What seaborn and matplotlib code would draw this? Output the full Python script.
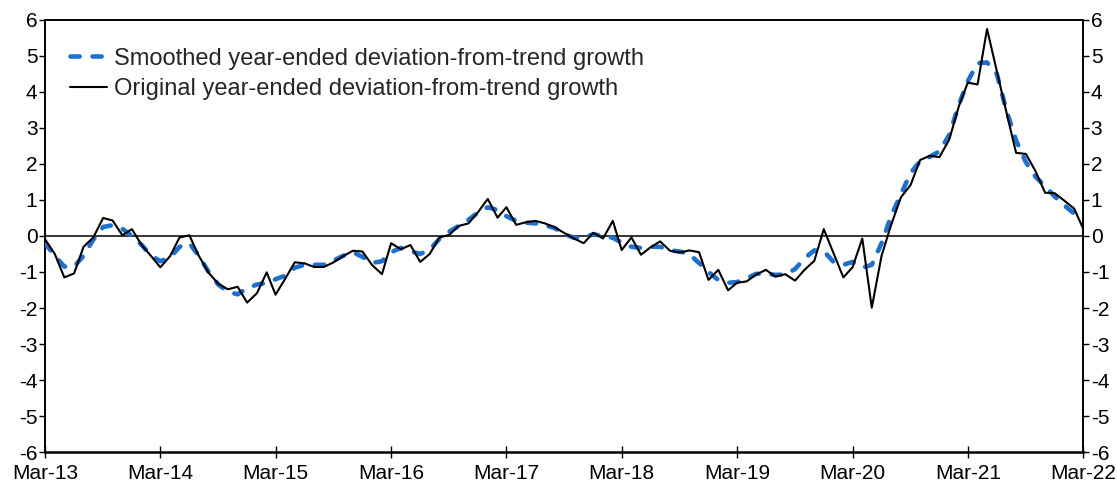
import numpy as np
import pandas as pd
import matplotlib
matplotlib.use("Agg")
import matplotlib.pyplot as plt
import matplotlib.dates as mdates
from matplotlib.lines import Line2D
import seaborn as sns

# Monthly observations, March 2013 to March 2022
months = pd.date_range("2013-03-01", "2022-03-01", freq="MS")

original = [
    -0.09, -0.50, -1.15, -1.04, -0.30, -0.04, 0.50, 0.43, 0.02, 0.19,
    -0.25, -0.57, -0.87, -0.56, -0.04, 0.02, -0.55, -1.02, -1.33, -1.48,
    -1.41, -1.85, -1.59, -1.01, -1.63, -1.18, -0.73, -0.76, -0.86, -0.86,
    -0.73, -0.56, -0.41, -0.43, -0.81, -1.06, -0.20, -0.37, -0.25, -0.72,
    -0.50, -0.04, 0.03, 0.28, 0.35, 0.66, 1.03, 0.51, 0.80, 0.31,
    0.38, 0.42, 0.35, 0.24, 0.08, -0.07, -0.20, 0.09, -0.07, 0.42,
    -0.39, -0.04, -0.52, -0.31, -0.15, -0.41, -0.46, -0.40, -0.45, -1.22,
    -0.94, -1.51, -1.30, -1.26, -1.07, -0.94, -1.13, -1.06, -1.24, -0.94,
    -0.69, 0.19, -0.48, -1.15, -0.87, -0.07, -1.99, -0.55, 0.30, 1.07,
    1.42, 2.11, 2.23, 2.19, 2.67, 3.61, 4.26, 4.21, 5.75, 4.58,
    3.45, 2.31, 2.28, 1.81, 1.20, 1.19, 0.98, 0.76, 0.21,
]

smoothed = [
    -0.20, -0.55, -0.85, -0.85, -0.55, -0.10, 0.25, 0.30, 0.20, 0.00,
    -0.25, -0.55, -0.70, -0.60, -0.30, -0.20, -0.55, -1.00, -1.35, -1.55,
    -1.62, -1.45, -1.35, -1.30, -1.20, -1.10, -0.88, -0.80, -0.80, -0.80,
    -0.68, -0.55, -0.45, -0.58, -0.75, -0.70, -0.45, -0.33, -0.42, -0.50,
    -0.38, -0.08, 0.12, 0.28, 0.45, 0.65, 0.80, 0.72, 0.55, 0.42,
    0.37, 0.35, 0.30, 0.22, 0.05, -0.05, -0.05, 0.05, 0.00, -0.05,
    -0.18, -0.30, -0.33, -0.30, -0.30, -0.40, -0.43, -0.50, -0.75, -1.00,
    -1.22, -1.30, -1.28, -1.18, -1.05, -1.05, -1.08, -1.07, -0.92, -0.62,
    -0.40, -0.42, -0.72, -0.80, -0.72, -0.88, -0.80, -0.20, 0.55, 1.15,
    1.75, 2.08, 2.20, 2.35, 2.80, 3.65, 4.30, 4.80, 4.82, 4.50,
    3.50, 2.65, 2.05, 1.65, 1.38, 1.10, 0.85, 0.62, 0.50,
]

smooth_label = "Smoothed year-ended deviation-from-trend growth"
orig_label = "Original year-ended deviation-from-trend growth"

y_ticks = list(range(-6, 7))
x_ticks = pd.date_range("2013-03-01", "2022-03-01", freq="12MS")

BLUE = "#1f6fce"
DASH = (2.0, 2.8)

df = pd.DataFrame({
    "date": np.concatenate([months, months]),
    "value": smoothed + original,
    "series": [smooth_label] * len(months) + [orig_label] * len(months),
})

sns.set_style("ticks")
plt.rcParams["font.family"] = ["Liberation Sans", "DejaVu Sans"]

fig = plt.figure(figsize=(11.17, 4.84), dpi=100)
ax = fig.add_axes([0.0403, 0.0661, 0.9293, 0.8926])

ax.axhline(0, color="black", lw=1.1, zorder=1)

sns.lineplot(
    data=df, x="date", y="value", hue="series", style="series",
    palette={smooth_label: BLUE, orig_label: "black"},
    dashes={smooth_label: DASH, orig_label: ""},
    size="series", sizes={smooth_label: 3.3, orig_label: 1.5},
    ax=ax, legend=False, zorder=3,
)
# round caps on the dashed smoothed line
ax.lines[1].set_dash_capstyle("round")

ax.set_xlim(months[0], months[-1])
ax.set_ylim(-6, 6)
ax.set_yticks(y_ticks)
ax.set_yticklabels([str(v) for v in y_ticks])
ax.set_xticks(x_ticks)
ax.xaxis.set_major_formatter(mdates.DateFormatter("%b-%y"))
ax.set_xlabel("")
ax.set_ylabel("")

for s in ax.spines.values():
    s.set_visible(True)
    s.set_color("black")
    s.set_linewidth(1.4)
ax.spines["bottom"].set_linewidth(1.8)

ax.tick_params(axis="y", which="both", direction="out", length=4, width=1,
               left=True, right=True, labelleft=True, labelright=True,
               labelsize=15, pad=1.5, colors="black")
ax.tick_params(axis="x", direction="inout", length=8, width=1,
               labelsize=15, pad=4.5, colors="black")

handles = [
    Line2D([], [], color=BLUE, lw=3.3, dashes=DASH, dash_capstyle="round"),
    Line2D([], [], color="black", lw=1.5),
]
ax.legend(handles, [smooth_label, orig_label], loc="upper left",
          bbox_to_anchor=(0.010, 0.969), frameon=False, fontsize=17,
          handlelength=1.6, handletextpad=0.3, labelspacing=0.35,
          borderaxespad=0.2)

fig.savefig("out.png", dpi=100)
